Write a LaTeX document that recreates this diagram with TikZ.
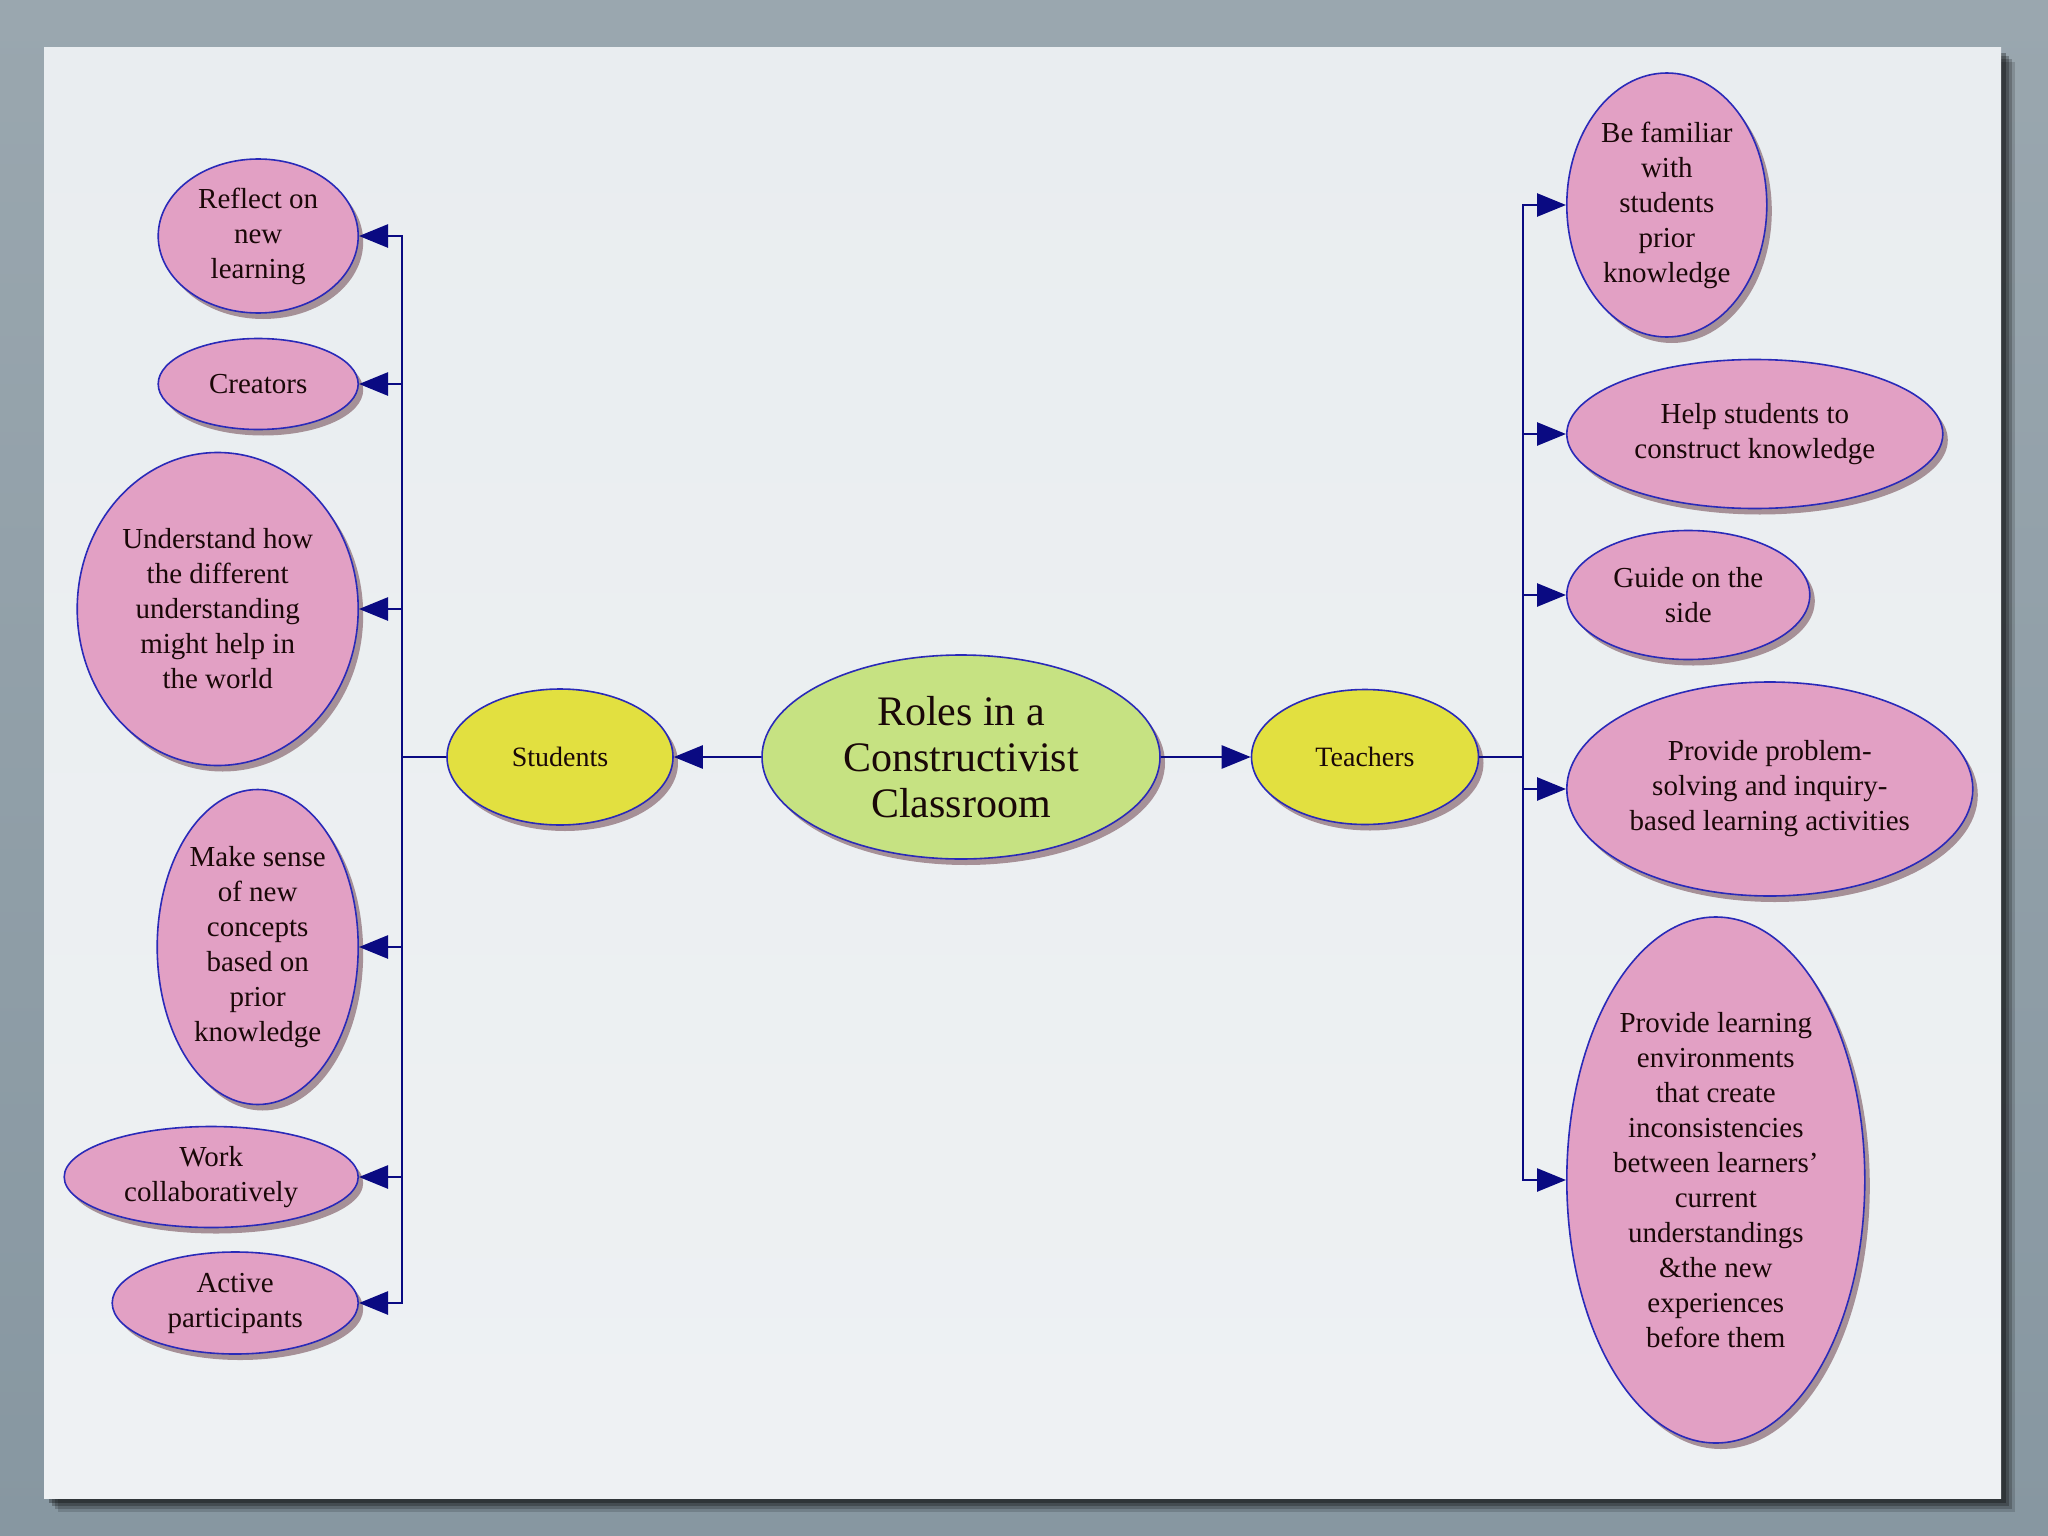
\documentclass[tikz,border=0pt]{standalone}
\usepackage{fontspec}
\setmainfont{Liberation Serif}
\usetikzlibrary{shapes.geometric,arrows.meta,shadows}
\definecolor{outerbg}{HTML}{8797A1}
\definecolor{outertop}{HTML}{9AA7AF}
\definecolor{papertop}{HTML}{E9EDF0}
\definecolor{paperbot}{HTML}{EEF1F3}
\definecolor{pinkf}{HTML}{E2A0C4}
\definecolor{greenf}{HTML}{C6E282}
\definecolor{yellowf}{HTML}{E2E040}
\definecolor{bord}{HTML}{2A2AB8}
\definecolor{navy}{HTML}{0A0A82}
\definecolor{shad}{HTML}{9A8088}
\definecolor{txt}{HTML}{1A0808}
\begin{document}
\begin{tikzpicture}[x=1pt,y=-1pt,
  bub/.style={ellipse, draw=bord, line width=1.6pt, inner sep=0pt, align=center, text=txt,
    drop shadow={shadow xshift=5pt, shadow yshift=-6pt, fill=shad, opacity=0.85}},
  pinkb/.style={bub, fill=pinkf, font=\fontsize{29}{35}\selectfont},
  yelb/.style={bub, fill=yellowf, font=\fontsize{28}{32}\selectfont},
  conn/.style={draw=navy, line width=2.6pt},
  arr/.style={conn, -{Triangle[length=29pt,width=23pt]}}]
\useasboundingbox (0,0) rectangle (2048,1536);
% background
\shade[top color=outertop, bottom color=outerbg] (0,0) rectangle (2048,1536);
\foreach \d/\o in {14/0.15,11/0.2,8/0.25,5/0.3}
  \fill[black, opacity=\o] (44+\d,48+\d) rectangle (2001+\d,1498+\d);
\shade[top color=papertop, bottom color=paperbot] (44,48) rectangle (2001,1498);
% nodes
\node[bub, fill=greenf, minimum width=398pt, minimum height=204pt, font=\fontsize{42}{46}\selectfont] (root) at (961,757) {Roles in a\\Constructivist\\Classroom};
\node[yelb, minimum width=226pt, minimum height=136pt] (students) at (560,757) {Students};
\node[yelb, minimum width=227pt, minimum height=135pt] (teachers) at (1365,757) {Teachers};
% student roles
\node[pinkb, anchor=east, minimum width=200pt, minimum height=154pt] (s1) at (359,236) {Reflect on\\new\\learning};
\node[pinkb, anchor=east, minimum width=200pt, minimum height=91pt] (s2) at (359,384) {Creators};
\node[pinkb, anchor=east, minimum width=281pt, minimum height=313pt] (s3) at (359,609) {Understand how\\the different\\understanding\\might help in\\the world};
\node[pinkb, anchor=east, minimum width=201pt, minimum height=315pt] (s4) at (359,947) {Make sense\\of new\\concepts\\based on\\prior\\knowledge};
\node[pinkb, anchor=east, minimum width=294pt, minimum height=101pt] (s5) at (359,1177) {Work\\collaboratively};
\node[pinkb, anchor=east, minimum width=246pt, minimum height=102pt] (s6) at (359,1303) {Active\\participants};
% teacher roles
\node[pinkb, anchor=west, minimum width=200pt, minimum height=264pt] (t1) at (1566,205) {Be familiar\\with\\students\\prior\\knowledge};
\node[pinkb, anchor=west, minimum width=376pt, minimum height=149pt] (t2) at (1566,434) {Help students to\\construct knowledge};
\node[pinkb, anchor=west, minimum width=243pt, minimum height=129pt] (t3) at (1566,595) {Guide on the\\side};
\node[pinkb, anchor=west, minimum width=406pt, minimum height=214pt] (t4) at (1566,789) {Provide problem-\\solving and inquiry-\\based learning activities};
\node[pinkb, anchor=west, minimum width=298pt, minimum height=526pt] (t5) at (1566,1180) {Provide learning\\environments\\that create\\inconsistencies\\between learners'\\current\\understandings\\\&the new\\experiences\\before them};
% bars
\coordinate (LB) at (402,757);
\coordinate (RB) at (1523,757);
% connectors
\draw[arr] (root.west) -- (students.east);
\draw[arr] (root.east) -- (teachers.west);
\foreach \n in {s1,s2,s3,s4,s5,s6}
  \draw[arr] (students.west) -- (LB) |- (\n.east);
\foreach \n in {t1,t2,t3,t4,t5}
  \draw[arr] (teachers.east) -- (RB) |- (\n.west);
\end{tikzpicture}
\end{document}
